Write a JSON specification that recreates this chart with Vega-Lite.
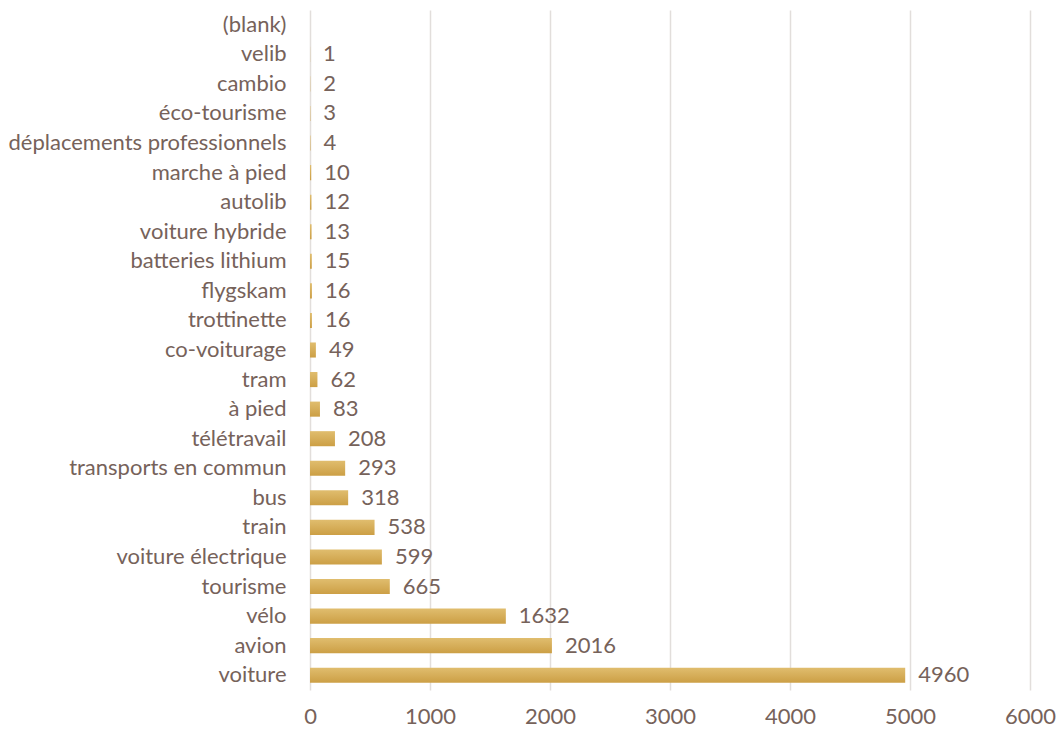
{
  "$schema": "https://vega.github.io/schema/vega-lite/v6.json",
  "width": 720,
  "height": 680,
  "autosize": {"type": "none"},
  "padding": {"left": 310, "top": 10, "right": 27, "bottom": 39},
  "background": "white",
  "config": {
    "view": {"stroke": null},
    "font": "Lato",
    "axis": {"labelFont": "Lato", "labelColor": "#76625a", "labelFontSize": 22, "grid": true, "gridColor": "#e2dedb", "gridWidth": 1.5, "domain": false, "ticks": false, "title": null}
  },
  "data": {
    "values": [
      {"cat": "(blank)", "value": null, "label": ""},
      {"cat": "velib", "value": 1, "label": "1"},
      {"cat": "cambio", "value": 2, "label": "2"},
      {"cat": "éco-tourisme", "value": 3, "label": "3"},
      {"cat": "déplacements professionnels", "value": 4, "label": "4"},
      {"cat": "marche à pied", "value": 10, "label": "10"},
      {"cat": "autolib", "value": 12, "label": "12"},
      {"cat": "voiture hybride", "value": 13, "label": "13"},
      {"cat": "batteries lithium", "value": 15, "label": "15"},
      {"cat": "flygskam", "value": 16, "label": "16"},
      {"cat": "trottinette", "value": 16, "label": "16"},
      {"cat": "co-voiturage", "value": 49, "label": "49"},
      {"cat": "tram", "value": 62, "label": "62"},
      {"cat": "à pied", "value": 83, "label": "83"},
      {"cat": "télétravail", "value": 208, "label": "208"},
      {"cat": "transports en commun", "value": 293, "label": "293"},
      {"cat": "bus", "value": 318, "label": "318"},
      {"cat": "train", "value": 538, "label": "538"},
      {"cat": "voiture électrique", "value": 599, "label": "599"},
      {"cat": "tourisme", "value": 665, "label": "665"},
      {"cat": "vélo", "value": 1632, "label": "1632"},
      {"cat": "avion", "value": 2016, "label": "2016"},
      {"cat": "voiture", "value": 4960, "label": "4960"}
    ]
  },
  "encoding": {
    "y": {"field": "cat", "type": "nominal", "sort": null,
      "scale": {"paddingInner": 0.49, "paddingOuter": 0.245,
        "domain": ["(blank)", "velib", "cambio", "éco-tourisme", "déplacements professionnels", "marche à pied", "autolib", "voiture hybride", "batteries lithium", "flygskam", "trottinette", "co-voiturage", "tram", "à pied", "télétravail", "transports en commun", "bus", "train", "voiture électrique", "tourisme", "vélo", "avion", "voiture"]},
      "axis": {"grid": false, "labelPadding": 24, "labelLimit": 320}},
    "x": {"field": "value", "type": "quantitative",
      "scale": {"domain": [0, 6000], "nice": false},
      "axis": {"values": [0, 1000, 2000, 3000, 4000, 5000, 6000], "format": "d", "labelPadding": 16, "labelFlush": false}}
  },
  "layer": [
    {"mark": {"type": "bar", "color": {"gradient": "linear", "x1": 0, "y1": 0, "x2": 0, "y2": 1, "stops": [{"offset": 0, "color": "#e0bd6e"}, {"offset": 1, "color": "#cc9f45"}]}}},
    {"mark": {"type": "text", "align": "left", "baseline": "middle", "dx": 13, "fontSize": 22, "color": "#76625a", "font": "Lato"},
      "encoding": {"text": {"field": "label"}}}
  ]
}
